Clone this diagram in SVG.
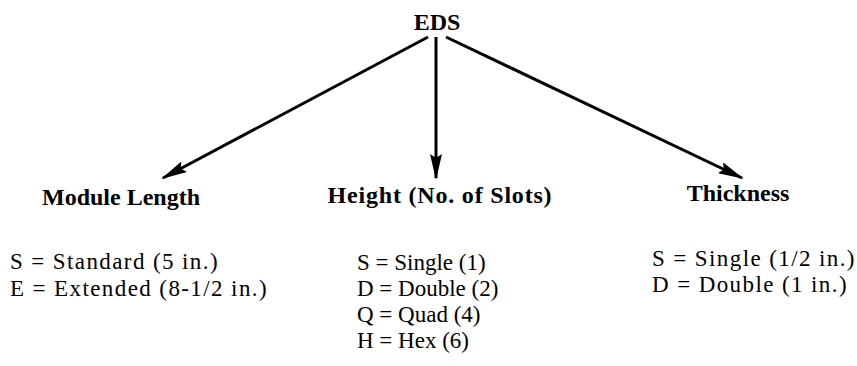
<svg xmlns="http://www.w3.org/2000/svg" width="857" height="366" viewBox="0 0 857 366">
<style>
.lbl{font-family:"Liberation Serif","Times New Roman",serif;font-weight:bold;font-size:24px;fill:#000;text-anchor:middle}
.itm{font-family:"Liberation Serif","Times New Roman",serif;font-size:23px;fill:#000;letter-spacing:1.4px}
.mid{letter-spacing:0px}
.edge{stroke:#000;stroke-width:3;fill:none;marker-end:url(#ah)}
</style>
<defs>
<marker id="ah" markerUnits="userSpaceOnUse" viewBox="0 0 26 12" refX="24" refY="6" markerWidth="26" markerHeight="12" orient="auto">
<path d="M0,0 L26,6 L0,12 L4,6 Z" fill="#000"/>
</marker>
</defs>
<g id="node-eds"><text class="lbl" x="437" y="30">EDS</text></g>
<g id="connectors">
<line class="edge" x1="428" y1="37" x2="163" y2="178"/>
<line class="edge" x1="436" y1="37" x2="436" y2="178"/>
<line class="edge" x1="446" y1="37" x2="742" y2="178"/>
</g>
<g id="node-module-length">
<text class="lbl" x="121" y="205">Module Length</text>
<text class="itm" x="10" y="269">S = Standard (5 in.)</text>
<text class="itm" x="10" y="296">E = Extended (8-1/2 in.)</text>
</g>
<g id="node-height">
<text class="lbl" x="440" y="203" style="letter-spacing:0.8px">Height (No. of Slots)</text>
<text class="itm mid" x="357" y="270">S = Single (1)</text>
<text class="itm mid" x="357" y="296">D = Double (2)</text>
<text class="itm mid" x="357" y="322">Q = Quad (4)</text>
<text class="itm mid" x="357" y="348">H = Hex (6)</text>
</g>
<g id="node-thickness">
<text class="lbl" x="738" y="201">Thickness</text>
<text class="itm" x="652" y="266">S = Single (1/2 in.)</text>
<text class="itm" x="652" y="292">D = Double (1 in.)</text>
</g>
</svg>
